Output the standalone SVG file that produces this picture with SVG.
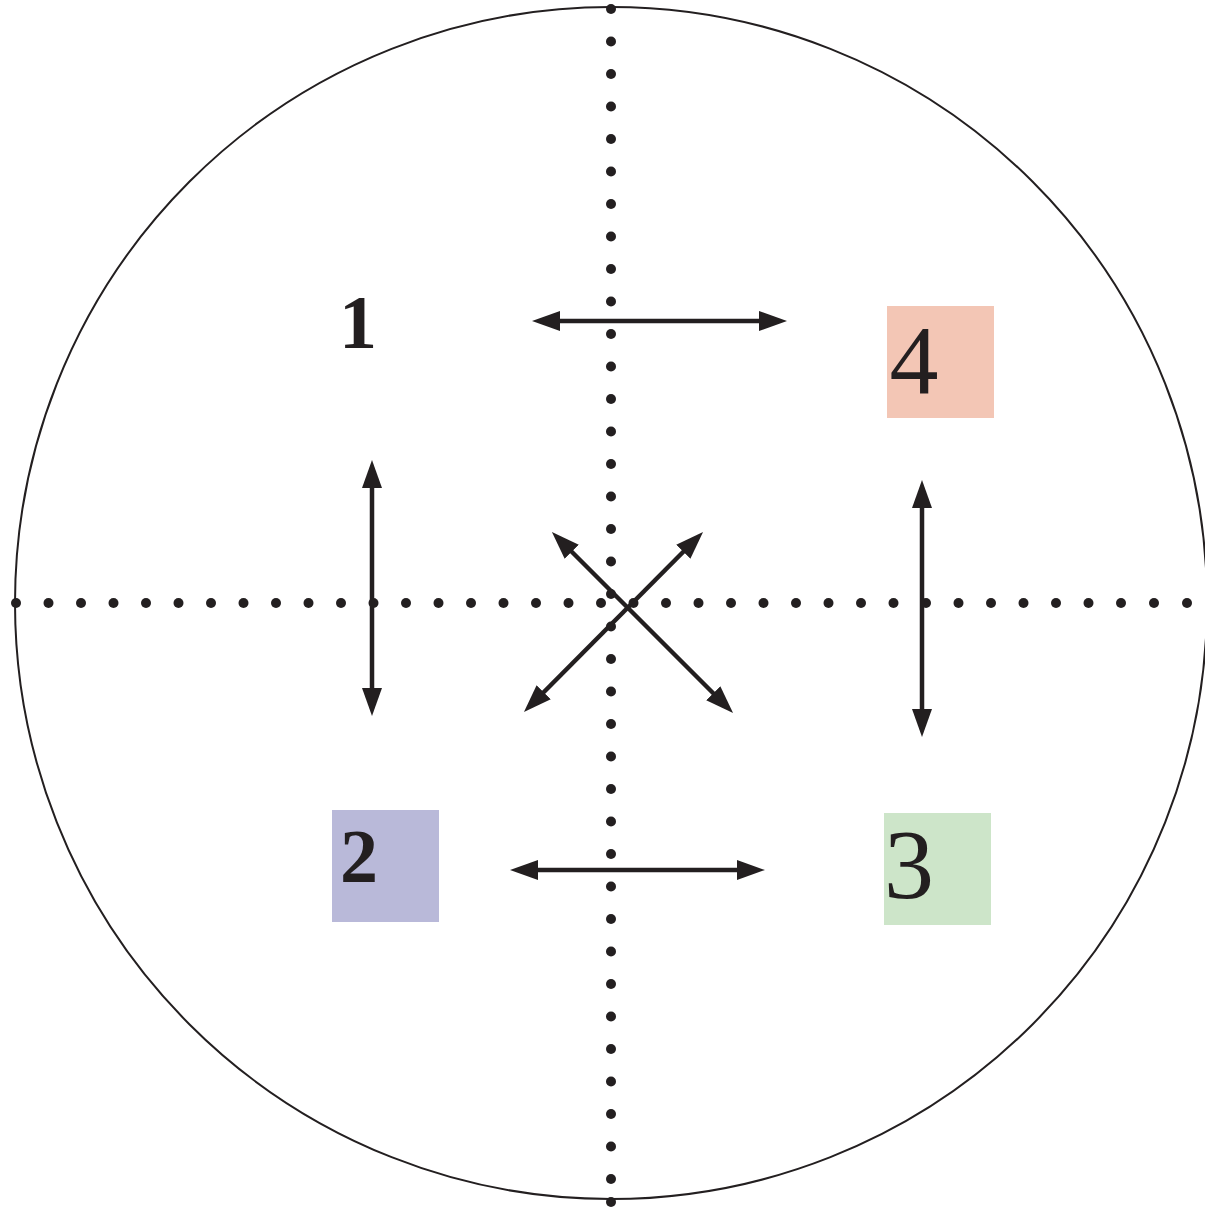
<svg xmlns="http://www.w3.org/2000/svg" width="1205" height="1208" viewBox="0 0 1205 1208">
<style>
.arr{stroke:#231f20;stroke-width:4.5;fill:none;marker-start:url(#ah);marker-end:url(#ah)}
.dot{fill:#231f20}
.num{font-family:"Liberation Serif","Times New Roman",serif;fill:#231f20;text-anchor:middle}
</style>
<defs>
<marker id="ah" markerUnits="userSpaceOnUse" markerWidth="28" markerHeight="20" viewBox="0 0 28 20" refX="18" refY="10" orient="auto-start-reverse">
<path d="M0,0 L28,10 L0,20 Z" fill="#231f20"/>
</marker>
<circle id="d" r="5" class="dot"/>
</defs>
<rect width="1205" height="1208" fill="#fff"/>
<circle cx="611" cy="603" r="596" fill="none" stroke="#231f20" stroke-width="2"/>
<g id="dots-vertical">
<use href="#d" x="611" y="9"/><use href="#d" x="611" y="41.5"/><use href="#d" x="611" y="74"/><use href="#d" x="611" y="106.5"/><use href="#d" x="611" y="139"/><use href="#d" x="611" y="171.5"/><use href="#d" x="611" y="204"/><use href="#d" x="611" y="236.5"/><use href="#d" x="611" y="269"/><use href="#d" x="611" y="301.5"/><use href="#d" x="611" y="334"/><use href="#d" x="611" y="366.5"/><use href="#d" x="611" y="399"/><use href="#d" x="611" y="431.5"/><use href="#d" x="611" y="464"/><use href="#d" x="611" y="496.5"/><use href="#d" x="611" y="529"/><use href="#d" x="611" y="561.5"/><use href="#d" x="611" y="594"/><use href="#d" x="611" y="626.5"/><use href="#d" x="611" y="659"/><use href="#d" x="611" y="691.5"/><use href="#d" x="611" y="724"/><use href="#d" x="611" y="756.5"/><use href="#d" x="611" y="789"/><use href="#d" x="611" y="821.5"/><use href="#d" x="611" y="854"/><use href="#d" x="611" y="886.5"/><use href="#d" x="611" y="919"/><use href="#d" x="611" y="951.5"/><use href="#d" x="611" y="984"/><use href="#d" x="611" y="1016.5"/><use href="#d" x="611" y="1049"/><use href="#d" x="611" y="1081.5"/><use href="#d" x="611" y="1114"/><use href="#d" x="611" y="1146.5"/><use href="#d" x="611" y="1179"/><use href="#d" x="611" y="1202"/>
</g>
<g id="dots-horizontal">
<use href="#d" x="16" y="603"/><use href="#d" x="48.5" y="603"/><use href="#d" x="81" y="603"/><use href="#d" x="113.5" y="603"/><use href="#d" x="146" y="603"/><use href="#d" x="178.5" y="603"/><use href="#d" x="211" y="603"/><use href="#d" x="243.5" y="603"/><use href="#d" x="276" y="603"/><use href="#d" x="308.5" y="603"/><use href="#d" x="341" y="603"/><use href="#d" x="373.5" y="603"/><use href="#d" x="406" y="603"/><use href="#d" x="438.5" y="603"/><use href="#d" x="471" y="603"/><use href="#d" x="503.5" y="603"/><use href="#d" x="536" y="603"/><use href="#d" x="568.5" y="603"/><use href="#d" x="601" y="603"/><use href="#d" x="633.5" y="603"/><use href="#d" x="666" y="603"/><use href="#d" x="698.5" y="603"/><use href="#d" x="731" y="603"/><use href="#d" x="763.5" y="603"/><use href="#d" x="796" y="603"/><use href="#d" x="828.5" y="603"/><use href="#d" x="861" y="603"/><use href="#d" x="893.5" y="603"/><use href="#d" x="926" y="603"/><use href="#d" x="958.5" y="603"/><use href="#d" x="991" y="603"/><use href="#d" x="1023.5" y="603"/><use href="#d" x="1056" y="603"/><use href="#d" x="1088.5" y="603"/><use href="#d" x="1121" y="603"/><use href="#d" x="1154" y="603"/><use href="#d" x="1187" y="603"/>
</g>
<g id="node-1">
<text class="num" x="358" y="348" font-size="76" font-weight="bold">1</text>
</g>
<g id="node-4">
<rect x="887" y="306" width="107" height="112" fill="#f3c6b5"/>
<text class="num" x="914" y="393" font-size="98">4</text>
</g>
<g id="node-2">
<rect x="332" y="810" width="107" height="112" fill="#b9b9d9"/>
<text class="num" x="359" y="882" font-size="76" font-weight="bold">2</text>
</g>
<g id="node-3">
<rect x="884" y="813" width="107" height="112" fill="#cde5c9"/>
<text class="num" x="909" y="898" font-size="100">3</text>
</g>
<g id="connectors">
<line class="arr" x1="542" y1="321" x2="777" y2="321"/>
<line class="arr" x1="520" y1="870" x2="755" y2="870"/>
<line class="arr" x1="372" y1="470" x2="372" y2="706"/>
<line class="arr" x1="922" y1="490" x2="922" y2="727"/>
<line class="arr" x1="559" y1="539" x2="726" y2="706"/>
<line class="arr" x1="696" y1="539" x2="531" y2="705"/>
</g>
</svg>
